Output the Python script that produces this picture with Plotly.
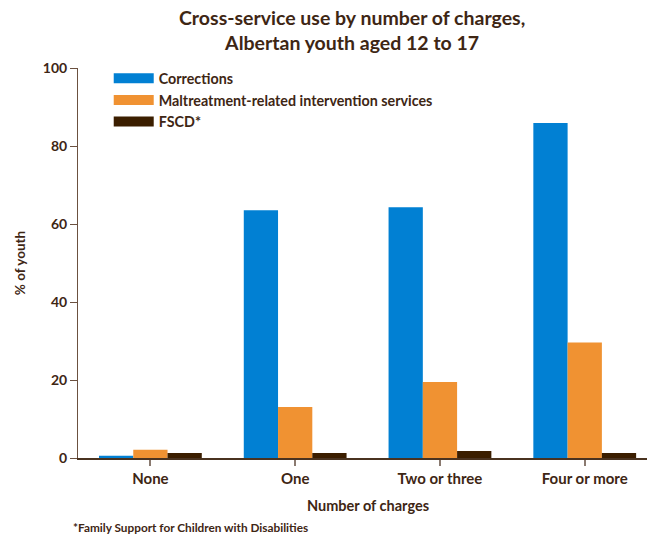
import plotly.graph_objects as go

categories = ["None", "One", "Two or three", "Four or more"]
series_names = ["Corrections", "Maltreatment-related intervention services", "FSCD*"]
corrections = [0.6, 63.5, 64.3, 85.9]
maltreatment = [2.1, 13.1, 19.5, 29.6]
fscd = [1.3, 1.3, 1.8, 1.3]
y_ticks = [0, 20, 40, 60, 80, 100]

colors = ["#0180D3", "#F09232", "#3B1E00"]
text_color = "#3E2614"
font_family = "Lato, 'Open Sans', sans-serif"

fig = go.Figure()
for name, vals, col in zip(series_names, [corrections, maltreatment, fscd], colors):
    fig.add_trace(go.Bar(x=categories, y=vals, name=name, marker=dict(color=col, line=dict(width=0)),
                         showlegend=False))
# legend entries drawn as wide swatches
for i, (name, col) in enumerate(zip(series_names, colors)):
    fig.add_trace(go.Scatter(x=[None], y=[None], mode="lines", name=name, legendgroup=f"g{i}",
                             line=dict(color=col, width=12), hoverinfo="skip"))

fig.update_layout(
    width=647, height=537,
    margin=dict(l=78, r=0, t=68, b=79),
    paper_bgcolor="white", plot_bgcolor="white",
    font=dict(family=font_family, color=text_color, size=14),
    barmode="group", bargap=0.29, bargroupgap=0,
    showlegend=True,
    legend=dict(x=0.054, y=1.014, xanchor="left", yanchor="top", bgcolor="rgba(0,0,0,0)",
                font=dict(size=14.3, color=text_color, family=font_family, weight="bold"),
                tracegroupgap=0, itemwidth=40),
    annotations=[
        dict(text="<b>Cross-service use by number of charges,<br>Albertan youth aged 12 to 17</b>",
             xref="paper", yref="paper", x=(352 - 78) / 569, y=1, yanchor="bottom", yshift=12,
             showarrow=False, font=dict(size=19.5, color=text_color, family=font_family), align="center"),
        dict(text="<b>Number of charges</b>", xref="x", yref="paper", x=1.5, y=0, yshift=-47,
             yanchor="middle", showarrow=False, font=dict(size=14.5, color=text_color, family=font_family)),
        dict(text="<b>*Family Support for Children with Disabilities</b>", xref="paper", yref="paper",
             x=-7 / 569, y=0, yshift=-69, xanchor="left", yanchor="middle", showarrow=False,
             font=dict(size=11.8, color=text_color, family=font_family)),
    ],
)
fig.update_xaxes(
    range=[-0.5, 3.43], showline=True, linecolor="#4a3320", linewidth=1.5,
    ticks="outside", ticklen=6, tickcolor="#8a7a70", tickwidth=1.5,
    tickfont=dict(size=15, color=text_color, family=font_family, weight="bold"),
    showgrid=False, zeroline=False, fixedrange=True,
)
fig.update_yaxes(
    range=[0, 100], tickvals=y_ticks, showline=True, linecolor="#6b5140", linewidth=1,
    ticks="outside", ticklen=7, tickcolor="#6b5140",
    tickfont=dict(size=14, color=text_color, family=font_family, weight="bold"),
    showgrid=False, zeroline=False,
    title=dict(text="<b>% of youth</b>", font=dict(size=13.5, color=text_color, family=font_family), standoff=14),
)

fig.write_html("out.html", config={"displayModeBar": False},
               post_script="document.body.style.margin='0';")
